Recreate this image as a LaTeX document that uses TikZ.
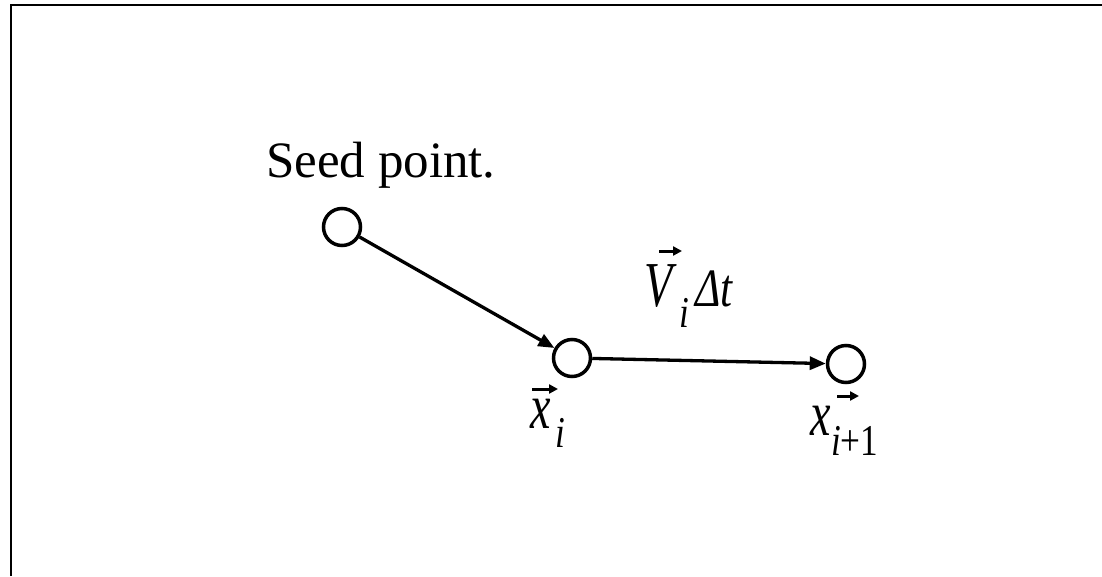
\documentclass[tikz,border=0pt]{standalone}
\usepackage{fontspec}
\setmainfont{Liberation Serif}
\usetikzlibrary{arrows.meta}
\newcommand\lblq[3][0.75]{\scalebox{#1}[1]{\fontsize{#2}{#2}\selectfont\itshape #3}}
\begin{document}
\begin{tikzpicture}[x=1pt,y=-1pt,
  ptnode/.style={circle,draw,line width=3.5pt,minimum size=37pt,inner sep=0pt},
  conn/.style={line width=3.3pt,-{Triangle[length=16pt,width=13pt]}},
  vecarr/.style={line width=3pt,-{Triangle[length=9pt,width=9pt]}},
  lab/.style={inner sep=0pt,anchor=base west},
  frame/.style={line width=2pt}]
\useasboundingbox (0,0) rectangle (1102,576);
\draw[frame] (11,576) -- (11,5) -- (1102,5);
% points
\node[ptnode] (seed) at (342,227) {};
\node[ptnode] (xi) at (572,358) {};
\node[ptnode] (xn) at (846,364) {};
% connectors
\draw[conn] (seed) -- (xi);
\draw[conn] (xi) -- (xn);
% labels
\node[lab] (seedlbl) at (266,177) {\fontsize{51}{51}\selectfont Seed point.};
\node[lab] (xlbl) at (530,428) {\lblq[0.72]{64}{x}};
\node[lab] (xsub) at (555,447) {\lblq[0.8]{44}{i}};
\node[lab] (vlbl) at (644,306) {\lblq[0.72]{64}{V}};
\node[lab] (vsub) at (679,327) {\lblq[0.8]{44}{i}};
\node[lab] (dt) at (695,306) {\lblq[0.8]{54}{Δt}};
\node[lab] (xnlbl) at (810,435) {\lblq[0.72]{64}{x}};
\node[lab] (xnsub) at (831,455) {\scalebox{0.8}[1]{\fontsize{44}{44}\selectfont\textit{i}+1}};
% vector arrows
\coordinate (ax1) at (532,389); \coordinate (ax2) at (558,389);
\coordinate (av1) at (659,251); \coordinate (av2) at (682,251);
\coordinate (an1) at (837,396); \coordinate (an2) at (859,396);
\draw[vecarr] (ax1) -- (ax2);
\draw[vecarr] (av1) -- (av2);
\draw[vecarr] (an1) -- (an2);
\end{tikzpicture}
\end{document}
